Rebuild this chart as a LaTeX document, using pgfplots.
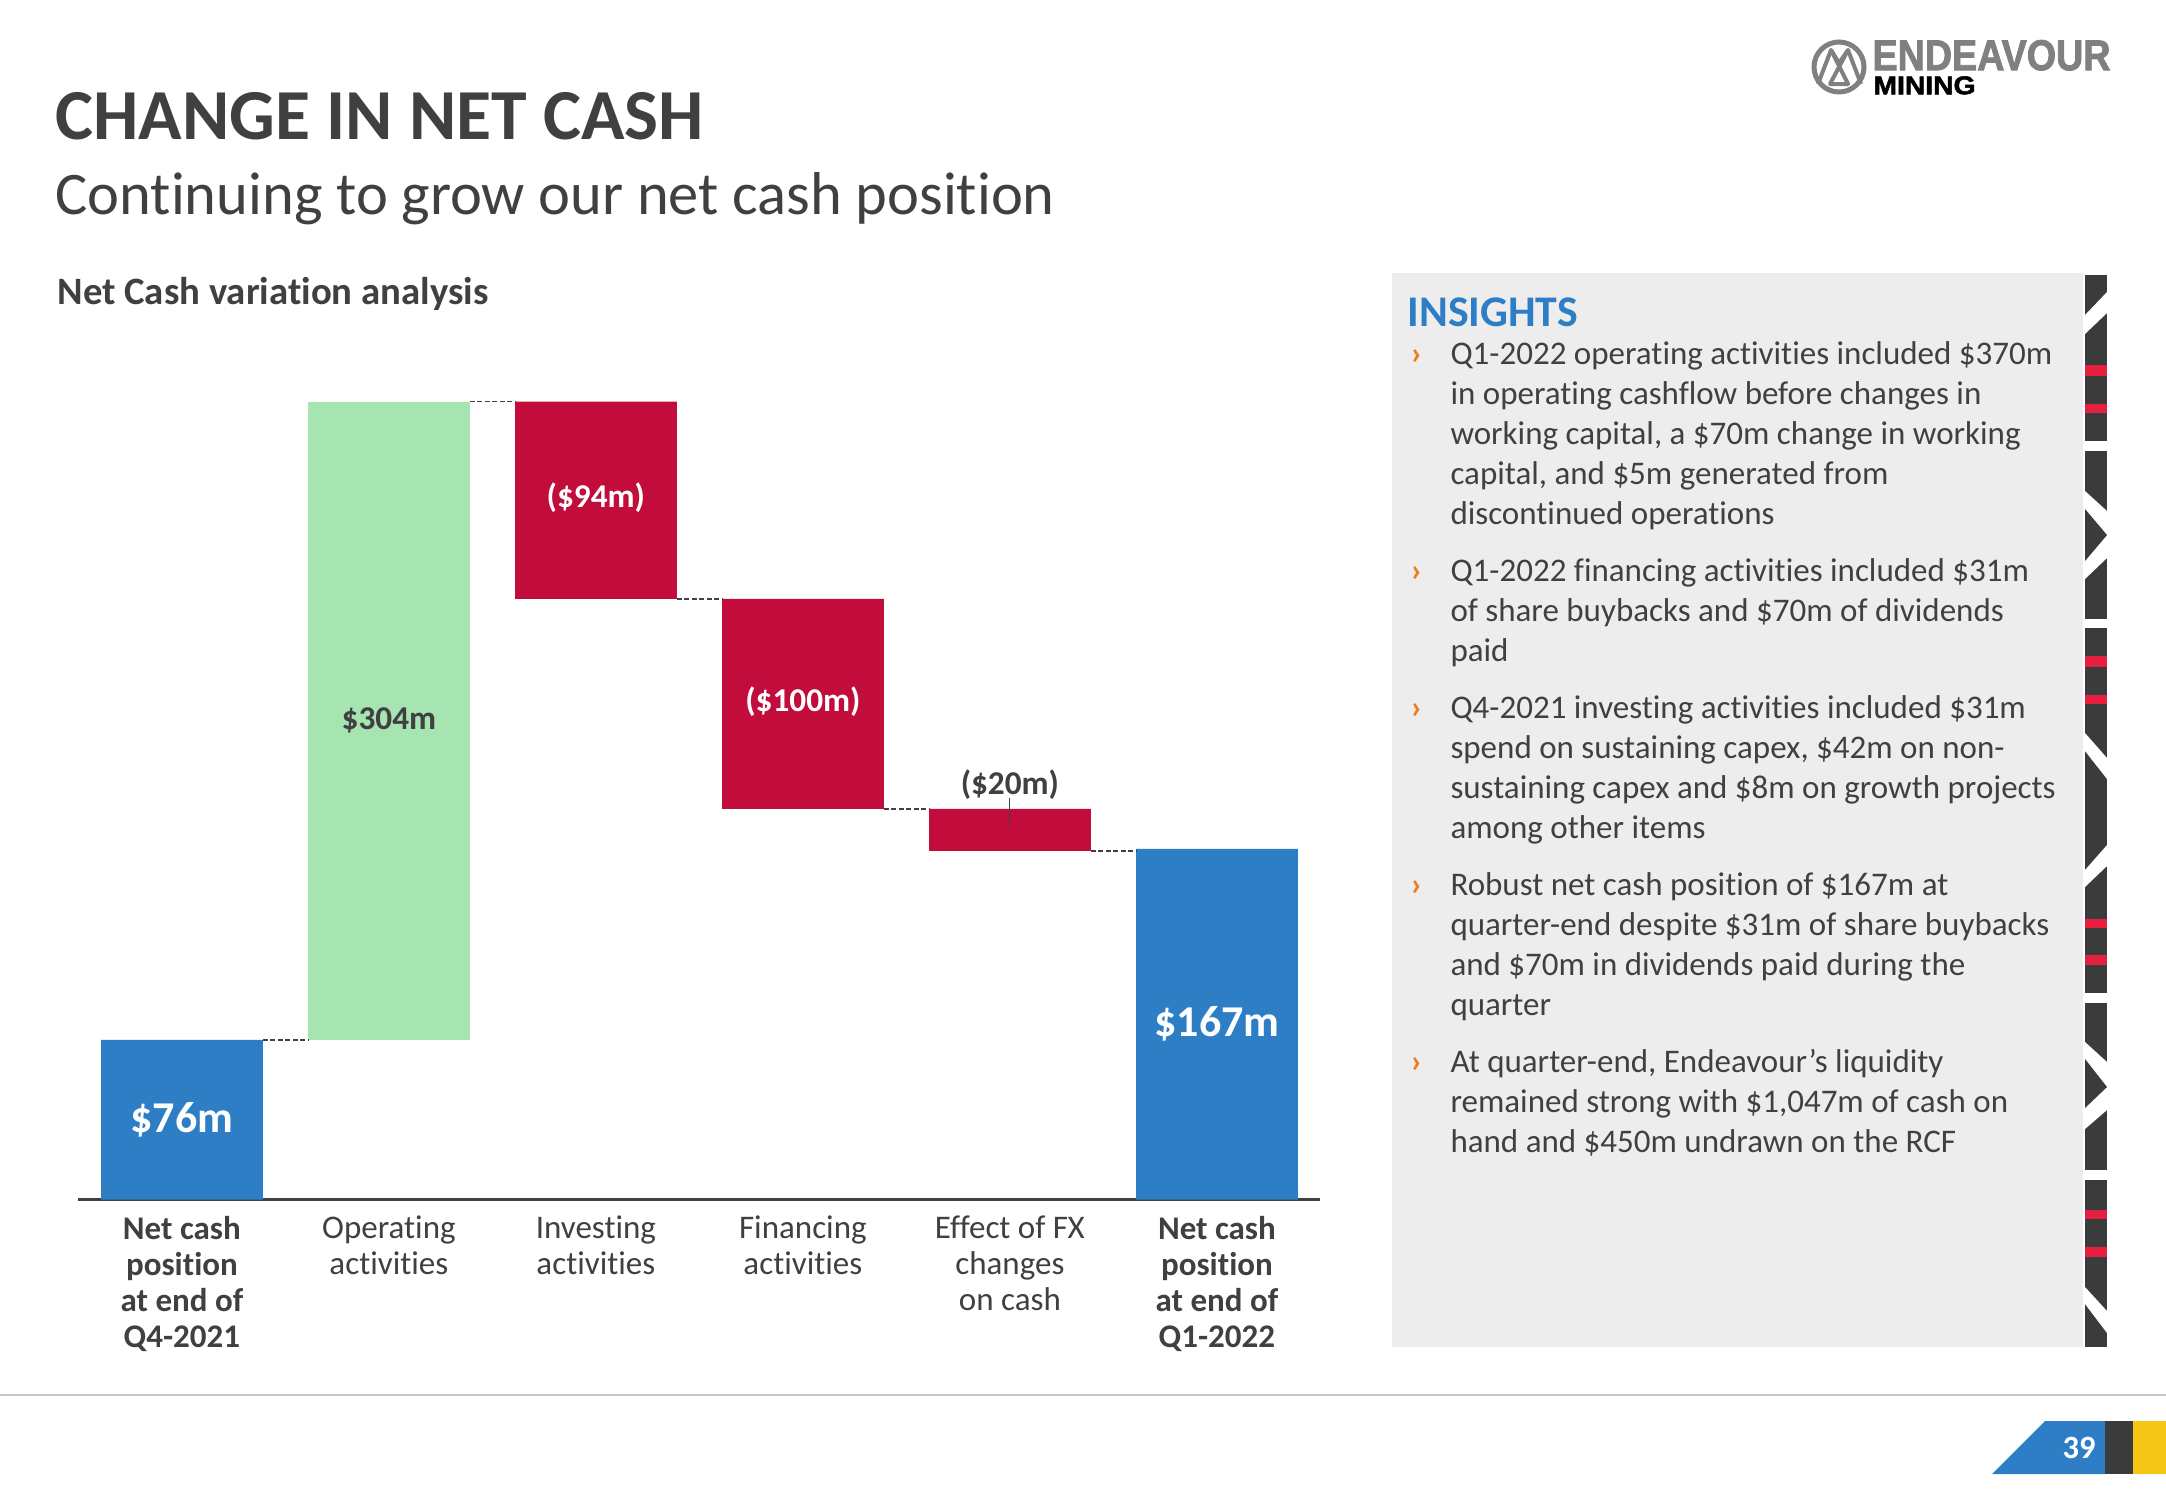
\documentclass[border=0pt]{standalone}
\usepackage{fontspec}
\setmainfont{Carlito}[Ligatures={NoCommon}]
\newfontfamily\logofont{Liberation Sans}[FakeBold=2]
\usepackage{pgfplots}
\pgfplotsset{compat=1.18}
\definecolor{cblue}{HTML}{2E7EC6}
\definecolor{cgreen}{HTML}{A6E5B1}
\definecolor{cred}{HTML}{C20C3C}
\definecolor{tgray}{HTML}{404040}
\definecolor{boxgray}{HTML}{EDEDED}
\definecolor{corange}{HTML}{F07D1A}
\definecolor{stripdark}{HTML}{3B3B3B}
\definecolor{stripred}{HTML}{E5203F}
\definecolor{cyellow}{HTML}{F5C518}
\definecolor{linegray}{HTML}{C8C8C8}
\definecolor{logogray}{HTML}{808080}
\newcommand\insfont{\fontsize{13.2pt}{16pt}\selectfont}
\newcommand\iline[2]{\node[anchor=base west,inner sep=0pt,text=tgray,font=\insfont] at (1450,#1) {#2};}
\newcommand\ibul[1]{\node[anchor=base west,inner sep=0pt,text=corange,font=\insfont\bfseries] at (1410,#1) {›};}
\begin{document}
\begin{tikzpicture}[x=0.4pt,y=-0.4pt]
\useasboundingbox (0,0) rectangle (2166,1500);
\fill[white] (0,0) rectangle (2166,1500);
% titles
\node[anchor=base west,inner sep=0pt,text=tgray,font=\bfseries\fontsize{28.7pt}{34pt}\selectfont] at (55,139.5) {CHANGE IN NET CASH};
\node[anchor=base west,inner sep=0pt,text=tgray,font=\fontsize{24.2pt}{29pt}\selectfont] at (55,214) {Continuing to grow our net cash position};
\node[anchor=base west,inner sep=0pt,text=tgray,font=\bfseries\fontsize{15.5pt}{19pt}\selectfont] at (57,304) {Net Cash variation analysis};
% logo
\draw[logogray,line width=2pt] (1839,67) circle[radius=25];
\draw[logogray,line width=1.6pt,line join=round] (1818,84) -- (1831,50) -- (1839,63) -- (1848,50) -- (1861,84);
\draw[logogray,line width=1.6pt,line join=round] (1831,50) -- (1848,84) -- (1830,84) -- (1848,50);
\node[anchor=south west,inner sep=0pt,text=logogray] at (1872,71) {\resizebox{95.2pt}{12pt}{\logofont\bfseries ENDEAVOUR}};
\node[anchor=south west,inner sep=0pt,text=black] at (1873,95) {\resizebox{40.8pt}{7.2pt}{\logofont\bfseries MINING}};
% insights box
\fill[boxgray] (1392,273) rectangle (2083,1347);
\node[anchor=base west,inner sep=0pt,text=cblue,font=\bfseries\fontsize{17.5pt}{21pt}\selectfont] at (1407,326) {INSIGHTS};
\ibul{364}
\iline{364}{Q1-2022 operating activities included \$370m}
\iline{404}{in operating cashflow before changes in}
\iline{444}{working capital, a \$70m change in working}
\iline{484}{capital, and \$5m generated from}
\iline{524}{discontinued operations}
\ibul{581}
\iline{581}{Q1-2022 financing activities included \$31m}
\iline{621}{of share buybacks and \$70m of dividends}
\iline{661}{paid}
\ibul{718}
\iline{718}{Q4-2021 investing activities included \$31m}
\iline{758}{spend on sustaining capex, \$42m on non-}
\iline{798}{sustaining capex and \$8m on growth projects}
\iline{838}{among other items}
\ibul{895}
\iline{895}{Robust net cash position of \$167m at}
\iline{935}{quarter-end despite \$31m of share buybacks}
\iline{975}{and \$70m in dividends paid during the}
\iline{1015}{quarter}
\ibul{1072}
\iline{1072}{At quarter-end, Endeavour’s liquidity}
\iline{1112}{remained strong with \$1,047m of cash on}
\iline{1152}{hand and \$450m undrawn on the RCF}
% decorative strip
\fill[stripdark] (2085,275) rectangle (2107,441);
\fill[white] (2085,315) -- (2107,292) -- (2107,313) -- (2085,334) -- cycle;
\fill[stripred] (2085,365) rectangle (2107,376);
\fill[stripred] (2085,404) rectangle (2107,413);
\fill[stripdark] (2085,451) rectangle (2107,619);
\fill[white] (2085,491) -- (2107,511) -- (2107,558) -- (2085,579) -- cycle;
\fill[stripdark] (2085,509) -- (2107,535) -- (2085,561) -- cycle;
\fill[stripdark] (2085,628) rectangle (2107,993);
\fill[stripred] (2085,656) rectangle (2107,667);
\fill[stripred] (2085,695) rectangle (2107,704);
\fill[white] (2085,733) -- (2107,758) -- (2107,779) -- (2085,751) -- cycle;
\fill[white] (2085,870) -- (2107,845) -- (2107,866) -- (2085,887) -- cycle;
\fill[stripred] (2085,919) rectangle (2107,928);
\fill[stripred] (2085,955) rectangle (2107,965);
\fill[stripdark] (2085,1003) rectangle (2107,1170);
\fill[white] (2085,1042) -- (2107,1062) -- (2107,1110) -- (2085,1129) -- cycle;
\fill[stripdark] (2085,1059) -- (2107,1087) -- (2085,1108) -- cycle;
\fill[stripdark] (2085,1180) rectangle (2107,1347);
\fill[stripred] (2085,1210) rectangle (2107,1219);
\fill[stripred] (2085,1247) rectangle (2107,1257);
\fill[white] (2085,1287) -- (2107,1311) -- (2107,1333) -- (2085,1304) -- cycle;
% footer
\draw[linegray,line width=0.8pt] (0,1395) -- (2166,1395);
\fill[cblue] (1992,1474) -- (2045,1421) -- (2105,1421) -- (2105,1474) -- cycle;
\fill[stripdark] (2105,1421) rectangle (2133,1474);
\fill[cyellow] (2133,1421) rectangle (2166,1474);
\node[text=white,font=\bfseries\fontsize{13pt}{15pt}\selectfont,inner sep=0pt] at (2079,1448) {39};
% chart
\begin{scope}[x=1pt,y=1pt]
\begin{axis}[
  at={(31.36pt,-479.8pt)}, anchor=south west,
  scale only axis, width=496.8pt, height=336pt,
  xmin=-0.5, xmax=5.5, ymin=0, ymax=400,
  axis x line=bottom, axis y line=none,
  x axis line style={-, draw=tgray, line width=0.9pt},
  ybar stacked, bar width=64.68pt,
  xtick={0,1,2,3,4,5}, major tick length=0pt,
  xticklabels={
    {\textbf{Net cash}\\\textbf{position}\\\textbf{at end of}\\\textbf{Q4-2021}},
    {Operating\\activities},
    {Investing\\activities},
    {Financing\\activities},
    {Effect of FX\\changes\\on cash},
    {\textbf{Net cash}\\\textbf{position}\\\textbf{at end of}\\\textbf{Q1-2022}}},
  xticklabel style={align=center, anchor=north, inner sep=0pt, yshift=-6.5pt,
    text=tgray, font=\fontsize{13.2pt}{14.4pt}\selectfont},
  clip=false,
]
\addplot[draw=none, fill=none] coordinates {(0,0) (1,76) (2,286) (3,186) (4,166) (5,0)};
\addplot[draw=none, fill=cblue] coordinates {(0,76) (1,0) (2,0) (3,0) (4,0) (5,167)};
\addplot[draw=none, fill=cgreen] coordinates {(0,0) (1,304) (2,0) (3,0) (4,0) (5,0)};
\addplot[draw=none, fill=cred] coordinates {(0,0) (1,0) (2,94) (3,100) (4,20) (5,0)};
\end{axis}
\begin{axis}[
  at={(31.36pt,-479.8pt)}, anchor=south west,
  scale only axis, width=496.8pt, height=336pt,
  xmin=-0.5, xmax=5.5, ymin=0, ymax=400,
  hide axis, clip=false,
]
\pgfplotsset{conn/.style={draw=tgray, line width=0.5pt, dash pattern=on 2pt off 1pt, forget plot}}
\addplot[conn] coordinates {(0.3906,76) (0.6094,76)};
\addplot[conn] coordinates {(1.3906,380) (1.6094,380)};
\addplot[conn] coordinates {(2.3906,286) (2.6094,286)};
\addplot[conn] coordinates {(3.3906,186) (3.6094,186)};
\addplot[conn] coordinates {(4.3906,166) (4.6094,166)};
\addplot[draw=tgray, line width=0.4pt, forget plot] coordinates {(4,178) (4,191)};
\node[text=white,font=\bfseries\fontsize{17.6pt}{21pt}\selectfont] at (axis cs:0,38) {\$76m};
\node[text=tgray,font=\bfseries\fontsize{13.3pt}{16pt}\selectfont] at (axis cs:1,228) {\$304m};
\node[text=white,font=\bfseries\fontsize{13.3pt}{16pt}\selectfont] at (axis cs:2,334) {(\$94m)};
\node[text=white,font=\bfseries\fontsize{13.3pt}{16pt}\selectfont] at (axis cs:3,237) {(\$100m)};
\node[text=tgray,font=\bfseries\fontsize{13.3pt}{16pt}\selectfont] at (axis cs:4,197.4) {(\$20m)};
\node[text=white,font=\bfseries\fontsize{17.6pt}{21pt}\selectfont] at (axis cs:5,83.5) {\$167m};
\end{axis}
\end{scope}
\end{tikzpicture}
\end{document}
